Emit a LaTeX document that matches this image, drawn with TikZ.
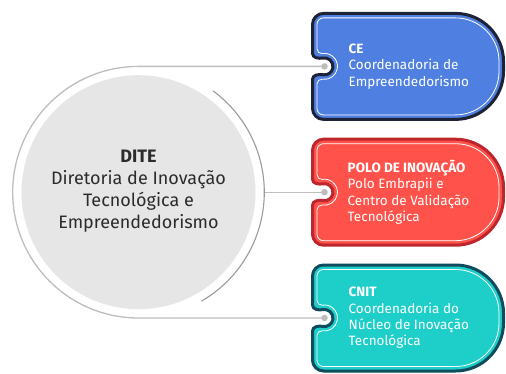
\documentclass[tikz,border=0pt]{standalone}
\usepackage{fontspec}
\setmainfont{Fira Sans}
\definecolor{cefill}{HTML}{4F80E1}
\definecolor{ceborder}{HTML}{1E2236}
\definecolor{pofill}{HTML}{FF524A}
\definecolor{poborder}{HTML}{BE252C}
\definecolor{cnfill}{HTML}{1ECFC9}
\definecolor{cnborder}{HTML}{0E4C5E}
\definecolor{circfill}{HTML}{E6E6E7}
\definecolor{linegray}{HTML}{BDBDBD}
\definecolor{arcgray}{HTML}{9A9A9A}
\definecolor{textdark}{HTML}{2B2B2B}
% #1 = centre y, #2 = inset, #3 = style
\newcommand\pzbox[3]{%
 \pgfmathsetmacro\pzL{312.5+#2}%
 \pgfmathsetmacro\pzR{503.5-#2}%
 \pgfmathsetmacro\pzr{8.5+#2}%
 \pgfmathsetmacro\pzax{324.5+\pzr*cos(-100)}%
 \pgfmathsetmacro\pzay{#1+\pzr*sin(-100)}%
 \pgfmathsetmacro\pzna{#1-13-#2}%
 \pgfmathsetmacro\pznb{#1+13+#2}%
 \pgfmathsetmacro\pzt{#1+53-#2}%
 \pgfmathsetmacro\pzb{#1-53+#2}%
 \pgfmathsetmacro\pzrl{11-#2}%
 \pgfmathsetmacro\pzrr{48-#2}%
 \draw[#3] (\pzL,\pzna) to[out=90,in=170] (\pzax,\pzay)
  arc[start angle=-100,end angle=100,radius=\pzr pt]
  to[out=190,in=-90] (\pzL,\pznb)
  -- (\pzL,#1+42) arc[start angle=180,end angle=90,radius=\pzrl pt]
  -- (455.5,\pzt) arc[start angle=90,end angle=0,radius=\pzrr pt]
  -- (\pzR,#1-5) arc[start angle=0,end angle=-90,radius=\pzrr pt]
  -- (323.5,\pzb) arc[start angle=-90,end angle=-180,radius=\pzrl pt]
  -- cycle;}
\tikzset{
  conn/.style={draw=linegray,line width=1.3pt},
  dotmark/.style={fill=linegray,draw=none},
  boxtext/.style={anchor=west,align=left,text=white,font=\fontsize{13.5}{16.4}\selectfont,inner sep=0pt},
  inset/.style={draw=white,line width=0.8pt}
}
\begin{document}
\begin{tikzpicture}[x=1pt,y=1pt]
\useasboundingbox (0,0) rectangle (506,373);
% centre circle
\coordinate (cc) at (138.5,180.8);
\coordinate (ctop) at (138.5,306.6);
\coordinate (cbot) at (138.5,55);
\coordinate (ceast) at (264.3,180.8);
\coordinate (dce) at (324.5,306.6);
\coordinate (dpo) at (324.5,180.8);
\coordinate (dcn) at (324.5,55);
\fill[circfill] (cc) circle[radius=117pt];
\node[align=center,text=textdark,font=\fontsize{18}{21.8}\selectfont] (dite) at (138.5,182)
 {\textbf{DITE}\\Diretoria de Inovação\\Tecnológica e\\Empreendedorismo};
% boxes
\pzbox{306.6}{0}{fill=cefill,draw=ceborder,line width=3pt}
\pzbox{306.6}{4.5}{inset}
\pzbox{180.8}{0}{fill=pofill,draw=poborder,line width=3pt}
\pzbox{180.8}{4.5}{inset}
\pzbox{55}{0}{fill=cnfill,draw=cnborder,line width=3pt}
\pzbox{55}{4.5}{inset}
% connectors
\draw[conn] (dce) -- (ctop) arc[start angle=90,end angle=270,radius=125.8pt] -- (dcn);
\draw[conn] (ceast) -- (dpo);
\draw[draw=arcgray,line width=1.1pt] ([shift={(53.6:125.8pt)}]cc) arc[start angle=53.6,end angle=-60,radius=125.8pt];
\fill[dotmark] (dce) circle[radius=3.3pt];
\fill[dotmark] (dpo) circle[radius=3.3pt];
\fill[dotmark] (dcn) circle[radius=3.3pt];
% texts
\node[boxtext] (ce) at (348.5,306.6) {\textbf{CE}\\Coordenadoria de\\Empreendedorismo};
\node[boxtext] (po) at (347.5,180.8) {\textbf{POLO DE INOVAÇÃO}\\Polo Embrapii e\\Centro de Validação\\Tecnológica};
\node[boxtext] (cn) at (348.5,55) {\textbf{CNIT}\\Coordenadoria do\\Núcleo de Inovação\\Tecnológica};
\end{tikzpicture}
\end{document}
